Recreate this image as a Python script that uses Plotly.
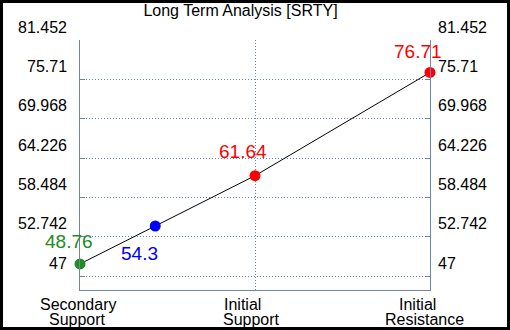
import plotly.graph_objects as go

# ---- data ----
title_text = "Long Term Analysis [SRTY]"
categories_line1 = ["Secondary", "Initial", "Initial"]
categories_line2 = ["Support", "Support", "Resistance"]
category_pos = [0, 1, 2]

point_x = [0, 0.43, 1, 2]
point_y = [48.76, 54.3, 61.64, 76.71]
point_labels = ["48.76", "54.3", "61.64", "76.71"]
point_colors = ["#228B22", "#0000FF", "#FF0000", "#FF0000"]

y_ticks = [47, 52.742, 58.484, 64.226, 69.968, 75.71, 81.452]
y_tick_labels = ["47", "52.742", "58.484", "64.226", "69.968", "75.71", "81.452"]

# ---- style ----
W, H = 510, 330
ML, MR, MT, MB = 80, 80, 40, 40
axis_color = "#6e86a6"
font_family = "Liberation Sans, Arial, sans-serif"
label_shift = [(-11, 22), (-16, -28), (-12, 24), (-12, 21)]
line1_xshift = [-2, -12.5, -12.5]
line2_xshift = [-3, -3.5, -5.5]

fig = go.Figure()
fig.add_trace(go.Scatter(
    x=point_x, y=point_y, mode="lines+markers",
    line=dict(color="black", width=1),
    marker=dict(color=point_colors, size=11),
    cliponaxis=False,
    hoverinfo="skip", showlegend=False,
))

annotations = []
for x, y, t, c, (dx, dy) in zip(point_x, point_y, point_labels, point_colors, label_shift):
    annotations.append(dict(x=x, y=y, xref="x", yref="y", text=t, showarrow=False,
                            xshift=dx, yshift=dy,
                            font=dict(size=19, color=c, family=font_family)))
for v, t in zip(y_ticks, y_tick_labels):
    annotations.append(dict(x=0, y=v, xref="paper", yref="y", text=t, showarrow=False,
                            xanchor="right", xshift=-11, yshift=13,
                            font=dict(size=16, color="black", family=font_family)))
    annotations.append(dict(x=1, y=v, xref="paper", yref="y", text=t, showarrow=False,
                            xanchor="left", xshift=6, yshift=13,
                            font=dict(size=16, color="black", family=font_family)))
for p, l1, l2, s1, s2 in zip(category_pos, categories_line1, categories_line2, line1_xshift, line2_xshift):
    annotations.append(dict(x=p, y=0, xref="x", yref="paper", text=l1, showarrow=False,
                            xanchor="center", yanchor="middle", xshift=s1, yshift=-14,
                            font=dict(size=16, color="black", family=font_family)))
    annotations.append(dict(x=p, y=0, xref="x", yref="paper", text=l2, showarrow=False,
                            xanchor="center", yanchor="middle", xshift=s2, yshift=-29,
                            font=dict(size=16, color="black", family=font_family)))

pw, ph = W - ML - MR, H - MT - MB
frame = dict(type="rect", xref="paper", yref="paper",
             x0=(1.5 - ML) / pw, x1=(W - 1.5 - ML) / pw,
             y0=-(MB - 1.5) / ph, y1=1 + (MT - 1.5) / ph,
             line=dict(color="black", width=3), fillcolor="rgba(0,0,0,0)", layer="above")

fig.update_layout(
    width=W, height=H,
    margin=dict(l=ML, r=MR, t=MT, b=MB, pad=0),
    paper_bgcolor="white", plot_bgcolor="white",
    title=dict(text=title_text, x=240.5 / W, xanchor="center", xref="container",
               y=1 - 10 / H, yanchor="middle", yref="container",
               font=dict(size=16, color="black", family=font_family)),
    xaxis=dict(range=[0, 2], tickvals=category_pos, showticklabels=False, ticks="",
               showgrid=True, gridcolor=axis_color, griddash="1px,2px", gridwidth=1,
               zeroline=False, showline=True, linecolor=axis_color, linewidth=1, mirror=False),
    yaxis=dict(range=[44.956, 81.452], tickvals=y_ticks, showticklabels=False,
               ticks="inside", ticklen=5, tickcolor=axis_color,
               showgrid=True, gridcolor=axis_color, griddash="1px,2px", gridwidth=1,
               zeroline=False, showline=True, linecolor=axis_color, linewidth=1, mirror="ticks"),
    annotations=annotations,
    shapes=[frame],
)

fig.write_html("out.html", config={"displayModeBar": False},
               post_script="document.body.style.margin='0px';document.body.style.overflow='hidden';")
